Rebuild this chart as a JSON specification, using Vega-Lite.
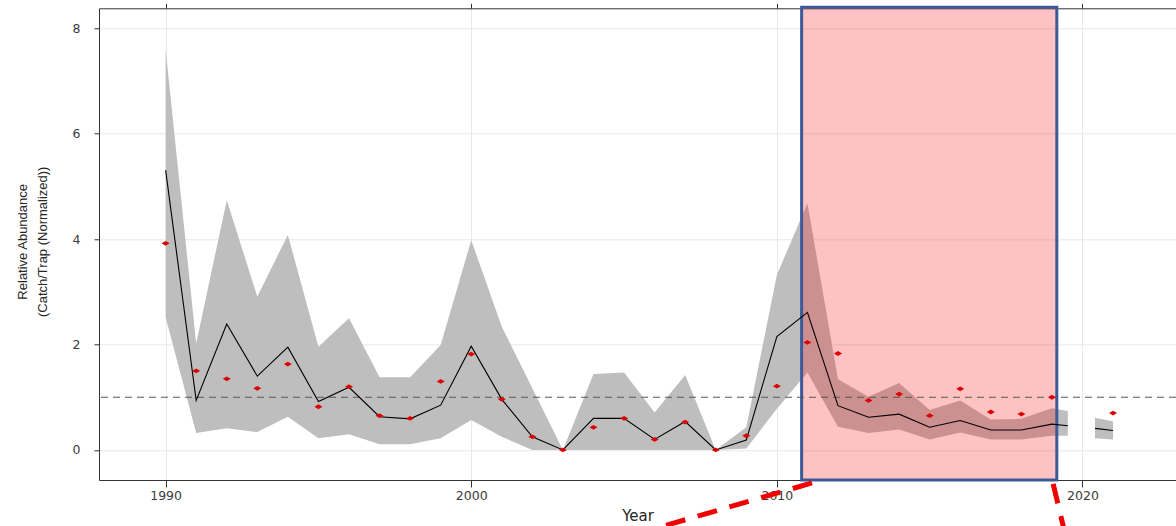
{
  "$schema": "https://vega.github.io/schema/vega-lite/v6.json",
  "width": 1077,
  "height": 471.7,
  "autosize": {"type": "none"},
  "padding": {"left": 99, "top": 8.3, "right": 0, "bottom": 46},
  "background": "white",
  "config": {
    "view": {"stroke": null},
    "axis": {
      "domainColor": "#333333",
      "domainWidth": 1,
      "tickColor": "#333333",
      "gridColor": "#e8e8e8",
      "gridWidth": 1,
      "labelFont": "DejaVu Sans",
      "labelFontSize": 12.5,
      "labelColor": "#3c3c3c",
      "titleFontWeight": "normal"
    }
  },
  "datasets": {
    "main": [
      {"year": 1990, "lo": 2.52, "hi": 7.6, "fit": 5.31, "obs": 3.92, "seg": 1},
      {"year": 1991, "lo": 0.32, "hi": 2.02, "fit": 0.94, "obs": 1.5, "seg": 1},
      {"year": 1992, "lo": 0.41, "hi": 4.74, "fit": 2.39, "obs": 1.35, "seg": 1},
      {"year": 1993, "lo": 0.34, "hi": 2.91, "fit": 1.4, "obs": 1.17, "seg": 1},
      {"year": 1994, "lo": 0.63, "hi": 4.08, "fit": 1.95, "obs": 1.63, "seg": 1},
      {"year": 1995, "lo": 0.22, "hi": 1.96, "fit": 0.92, "obs": 0.82, "seg": 1},
      {"year": 1996, "lo": 0.3, "hi": 2.5, "fit": 1.19, "obs": 1.2, "seg": 1},
      {"year": 1997, "lo": 0.11, "hi": 1.38, "fit": 0.63, "obs": 0.65, "seg": 1},
      {"year": 1998, "lo": 0.11, "hi": 1.38, "fit": 0.59, "obs": 0.6, "seg": 1},
      {"year": 1999, "lo": 0.22, "hi": 1.99, "fit": 0.85, "obs": 1.3, "seg": 1},
      {"year": 2000, "lo": 0.57, "hi": 3.98, "fit": 1.97, "obs": 1.82, "seg": 1},
      {"year": 2001, "lo": 0.25, "hi": 2.34, "fit": 0.96, "obs": 0.96, "seg": 1},
      {"year": 2002, "lo": 0.0, "hi": 1.17, "fit": 0.25, "obs": 0.25, "seg": 1},
      {"year": 2003, "lo": 0.0, "hi": 0.0, "fit": 0.0, "obs": 0.0, "seg": 1},
      {"year": 2004, "lo": 0.0, "hi": 1.44, "fit": 0.6, "obs": 0.43, "seg": 1},
      {"year": 2005, "lo": 0.0, "hi": 1.47, "fit": 0.6, "obs": 0.6, "seg": 1},
      {"year": 2006, "lo": 0.0, "hi": 0.71, "fit": 0.2, "obs": 0.2, "seg": 1},
      {"year": 2007, "lo": 0.0, "hi": 1.42, "fit": 0.54, "obs": 0.53, "seg": 1},
      {"year": 2008, "lo": 0.0, "hi": 0.0, "fit": 0.0, "obs": 0.0, "seg": 1},
      {"year": 2009, "lo": 0.03, "hi": 0.43, "fit": 0.19, "obs": 0.27, "seg": 1},
      {"year": 2010, "lo": 0.78, "hi": 3.32, "fit": 2.15, "obs": 1.21, "seg": 1},
      {"year": 2011, "lo": 1.47, "hi": 4.68, "fit": 2.61, "obs": 2.04, "seg": 1},
      {"year": 2012, "lo": 0.44, "hi": 1.34, "fit": 0.84, "obs": 1.83, "seg": 1},
      {"year": 2013, "lo": 0.32, "hi": 1.01, "fit": 0.62, "obs": 0.94, "seg": 1},
      {"year": 2014, "lo": 0.39, "hi": 1.27, "fit": 0.68, "obs": 1.06, "seg": 1},
      {"year": 2015, "lo": 0.2, "hi": 0.76, "fit": 0.43, "obs": 0.65, "seg": 1},
      {"year": 2016, "lo": 0.33, "hi": 0.94, "fit": 0.56, "obs": 1.16, "seg": 1},
      {"year": 2017, "lo": 0.2, "hi": 0.58, "fit": 0.38, "obs": 0.72, "seg": 1},
      {"year": 2018, "lo": 0.2, "hi": 0.59, "fit": 0.38, "obs": 0.68, "seg": 1},
      {"year": 2019, "lo": 0.27, "hi": 0.79, "fit": 0.49, "obs": 1.0, "seg": 1},
      {"year": 2019.52, "lo": 0.27, "hi": 0.74, "fit": 0.46, "obs": null, "seg": 1},
      {"year": 2020.41, "lo": 0.22, "hi": 0.61, "fit": 0.41, "obs": null, "seg": 2},
      {"year": 2021, "lo": 0.2, "hi": 0.54, "fit": 0.37, "obs": 0.7, "seg": 2}
    ],
    "box": [
      {"x1": 2010.81, "x2": 2019.16, "y1": -0.57, "y2": 8.4}
    ],
    "ref": [
      {"v": 1}
    ],
    "zoomlines": [
      {"xa": 2011.15, "ya": -0.626, "xb": 2004.72, "yb": -1.708},
      {"xa": 2019.04, "ya": -0.645, "xb": 2019.51, "yb": -1.784}
    ]
  },
  "layer": [
    {
      "data": {"name": "main"},
      "mark": {"type": "area", "color": "#bebebe", "opacity": 1},
      "encoding": {
        "x": {
          "field": "year", "type": "quantitative",
          "scale": {"domain": [1987.82, 2023.06], "nice": false, "zero": false},
          "axis": {
            "orient": "bottom",
            "values": [1990, 2000, 2010, 2020],
            "format": "d",
            "tickSize": 7,
            "labelPadding": 2,
            "grid": true,
            "title": "Year",
            "titleFont": "DejaVu Sans",
            "titleFontSize": 15,
            "titleColor": "#262626",
            "titleX": 538.5,
            "titleY": 35,
            "titleBaseline": "middle",
            "titleAlign": "center"
          }
        },
        "y": {
          "field": "lo", "type": "quantitative",
          "scale": {"domain": [-0.57, 8.38], "nice": false, "zero": false},
          "axis": {
            "orient": "left",
            "values": [0, 2, 4, 6, 8],
            "tickSize": 5,
            "labelPadding": 14,
            "grid": true,
            "title": ["Relative Abundance", "(Catch/Trap (Normalized))"],
            "titleFont": "Liberation Sans",
            "titleFontSize": 13,
            "titleColor": "#262626",
            "titleLineHeight": 20,
            "titleAngle": -90,
            "titleX": -76.5,
            "titleY": 233,
            "titleAlign": "center",
            "titleBaseline": "middle"
          }
        },
        "y2": {"field": "hi"},
        "detail": {"field": "seg", "type": "nominal"}
      }
    },
    {
      "data": {"name": "box"},
      "mark": {"type": "rect", "fill": "#ff0000", "fillOpacity": 0.24, "stroke": "#3c5a99", "strokeWidth": 3, "strokeOpacity": 1},
      "encoding": {
        "x": {
          "field": "x1", "type": "quantitative",
          "scale": {"domain": [1987.82, 2023.06], "nice": false, "zero": false},
          "axis": {
            "orient": "top",
            "values": [1990, 2000, 2010, 2020],
            "labels": false,
            "tickSize": 5,
            "grid": false,
            "title": null
          }
        },
        "x2": {"field": "x2"},
        "y": {
          "field": "y1", "type": "quantitative",
          "scale": {"domain": [-0.57, 8.38], "nice": false, "zero": false}
        },
        "y2": {"field": "y2"}
      }
    },
    {
      "data": {"name": "ref"},
      "mark": {"type": "rule", "color": "#555555", "strokeWidth": 1, "strokeDash": [7, 5]},
      "encoding": {
        "y": {
          "field": "v", "type": "quantitative",
          "scale": {"domain": [-0.57, 8.38], "nice": false, "zero": false}
        }
      }
    },
    {
      "data": {"name": "main"},
      "mark": {"type": "line", "color": "#000000", "strokeWidth": 1.1},
      "encoding": {
        "x": {"field": "year", "type": "quantitative", "scale": {"domain": [1987.82, 2023.06], "nice": false, "zero": false}, "axis": null},
        "y": {"field": "fit", "type": "quantitative", "scale": {"domain": [-0.57, 8.38], "nice": false, "zero": false}},
        "detail": {"field": "seg", "type": "nominal"}
      }
    },
    {
      "data": {"name": "main"},
      "mark": {"type": "point", "shape": "M-1,0L0,-0.6L1,0L0,0.6Z", "filled": true, "size": 64, "color": "#dd0000", "opacity": 1},
      "encoding": {
        "x": {"field": "year", "type": "quantitative", "scale": {"domain": [1987.82, 2023.06], "nice": false, "zero": false}, "axis": null},
        "y": {"field": "obs", "type": "quantitative", "scale": {"domain": [-0.57, 8.38], "nice": false, "zero": false}}
      }
    },
    {
      "data": {"name": "zoomlines"},
      "mark": {"type": "rule", "color": "#f00000", "strokeWidth": 5, "strokeDash": [20, 13]},
      "encoding": {
        "x": {"field": "xa", "type": "quantitative", "scale": {"domain": [1987.82, 2023.06], "nice": false, "zero": false}, "axis": null},
        "y": {"field": "ya", "type": "quantitative", "scale": {"domain": [-0.57, 8.38], "nice": false, "zero": false}},
        "x2": {"field": "xb"},
        "y2": {"field": "yb"}
      }
    }
  ]
}
